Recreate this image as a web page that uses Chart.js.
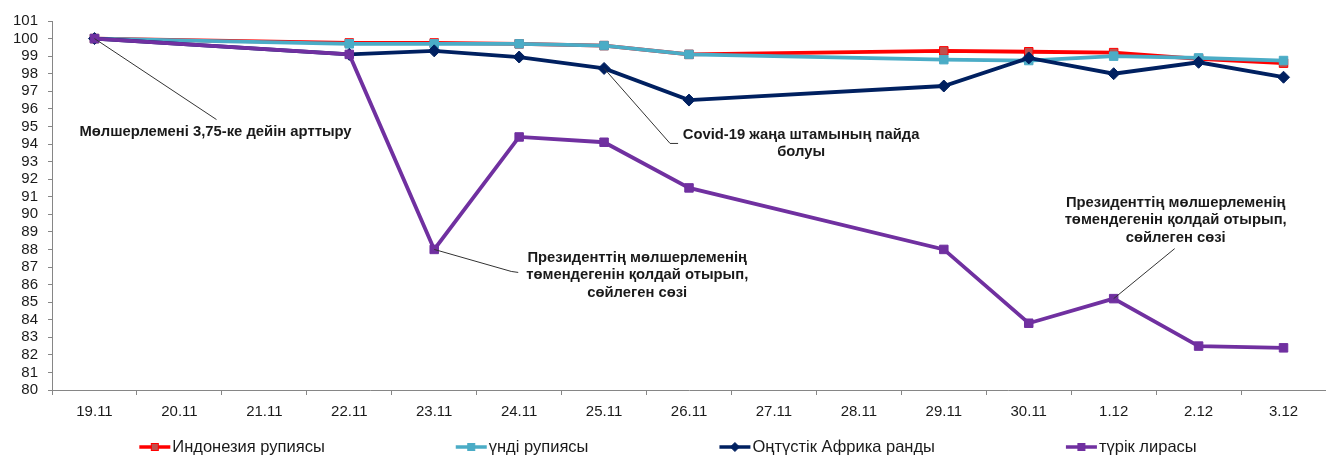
<!DOCTYPE html>
<html>
<head>
<meta charset="utf-8">
<script src="https://cdn.jsdelivr.net/npm/chart.js@4.4.0/dist/chart.umd.min.js"></script>
<style>
  html, body { margin: 0; padding: 0; background: #fff; }
  #wrap { width: 1326px; height: 457px; position: relative; }
</style>
</head>
<body>
<div id="wrap"><canvas id="fx"></canvas></div>
<script>
const labels = ['19.11', '20.11', '21.11', '22.11', '23.11', '24.11', '25.11', '26.11', '27.11', '28.11', '29.11', '30.11', '1.12', '2.12', '3.12'];

// index, 19.11 = 100; no quotes on 20-21.11 and 27-28.11
const idr = [100, null, null, 99.75, 99.75, 99.7, 99.6, 99.1, null, null, 99.3, 99.25, 99.2, 98.85, 98.6];
const inr = [100, null, null, 99.7, 99.7, 99.7, 99.6, 99.1, null, null, 98.8, 98.75, 99.0, 98.9, 98.75];
const zar = [100, null, null, 99.1, 99.3, 98.95, 98.3, 96.5, null, null, 97.3, 98.9, 98.0, 98.65, 97.8];
const tryl = [100, null, null, 99.1, 88.0, 94.4, 94.1, 91.5, null, null, 88.0, 83.8, 85.2, 82.5, 82.4];

const seriesNames = ['Индонезия рупиясы', 'үнді рупиясы', 'Оңтүстік Африка ранды', 'түрік лирасы'];

const yTicks = { min: 80, max: 101, step: 1 };

const speech = ['Президенттің мөлшерлеменің', 'төмендегенін қолдай отырып,', 'сөйлеген сөзі'];
const notes = [
  { ds: 3, at: 0,  text: ['Мөлшерлемені 3,75-ке дейін арттыру'], path: [[122, 81]], tx: 121, ty: 93 },
  { ds: 2, at: 6,  text: ['Covid-19 жаңа штамының пайда', 'болуы'], path: [[66, 75], [74, 75]], tx: 197, ty: 66 },
  { ds: 3, at: 4,  text: speech, path: [[77, 22], [84, 23]], tx: 203, ty: 8 },
  { ds: 3, at: 12, text: speech, path: [[61, -50]], tx: 62, ty: -96 }
];

const FONT = 'Arial, "Liberation Sans", sans-serif';

const notePlugin = {
  id: 'notes',
  afterDatasetsDraw(chart) {
    const { ctx, scales: { x, y } } = chart;
    ctx.save();
    notes.forEach(n => {
      const v = chart.data.datasets[n.ds].data[n.at];
      const px = x.getPixelForValue(n.at);
      const py = y.getPixelForValue(v);
      ctx.strokeStyle = '#333333';
      ctx.lineWidth = 1;
      ctx.beginPath();
      ctx.moveTo(px, py);
      n.path.forEach(p => ctx.lineTo(px + p[0], py + p[1]));
      ctx.stroke();
      ctx.fillStyle = '#1a1a1a';
      ctx.font = 'bold 14.8px ' + FONT;
      ctx.textAlign = 'center';
      ctx.textBaseline = 'middle';
      n.text.forEach((t, i) => ctx.fillText(t, px + n.tx, py + n.ty + i * 17.5));
    });
    ctx.restore();
  }
};

const legendPlugin = {
  id: 'legendRow',
  afterDraw(chart) {
    const { ctx } = chart;
    const sets = chart.data.datasets;
    ctx.save();
    ctx.font = '16.5px ' + FONT;
    const lineW = 31, gapText = 2, gap = 131;
    const widths = sets.map(d => lineW + gapText + ctx.measureText(d.label).width);
    const total = widths.reduce((a, b) => a + b, 0) + gap * (sets.length - 1);
    let xx = (chart.width - total) / 2 + 5;
    const yy = 447;
    sets.forEach((d, i) => {
      ctx.strokeStyle = d.borderColor;
      ctx.lineWidth = 3.5;
      ctx.beginPath();
      ctx.moveTo(xx, yy);
      ctx.lineTo(xx + lineW, yy);
      ctx.stroke();
      const cx = xx + lineW / 2;
      ctx.fillStyle = d.pointBackgroundColor;
      ctx.strokeStyle = d.pointBorderColor;
      ctx.lineWidth = 1;
      if (d.pointStyle === 'rectRot') {
        ctx.beginPath();
        ctx.moveTo(cx, yy - 4.5); ctx.lineTo(cx + 4.5, yy); ctx.lineTo(cx, yy + 4.5); ctx.lineTo(cx - 4.5, yy);
        ctx.closePath(); ctx.fill(); ctx.stroke();
      } else {
        ctx.fillRect(cx - 3.5, yy - 3.5, 7, 7);
        ctx.strokeRect(cx - 3.5, yy - 3.5, 7, 7);
      }
      ctx.fillStyle = '#1a1a1a';
      ctx.textAlign = 'left';
      ctx.textBaseline = 'middle';
      ctx.fillText(d.label, xx + lineW + gapText, yy);
      xx += widths[i] + gap;
    });
    ctx.restore();
  }
};

function line(label, data, color, fill, style, radius, order) {
  return {
    label, data, order,
    borderColor: color,
    backgroundColor: color,
    borderWidth: 3.8,
    pointStyle: style,
    pointRadius: radius,
    pointHoverRadius: radius,
    pointBackgroundColor: fill,
    pointBorderColor: color,
    pointBorderWidth: 1,
    spanGaps: true,
    tension: 0
  };
}

new Chart(document.getElementById('fx'), {
  type: 'line',
  data: {
    labels,
    datasets: [
      line(seriesNames[0], idr, '#FF0000', '#C0504D', 'rect', 6, 4),
      line(seriesNames[1], inr, '#4BACC6', '#4BACC6', 'rect', 6, 3),
      line(seriesNames[2], zar, '#002060', '#002060', 'rectRot', 6, 2),
      line(seriesNames[3], tryl, '#7030A0', '#7030A0', 'rect', 6, 1)
    ]
  },
  options: {
    responsive: true,
    maintainAspectRatio: false,
    animation: false,
    layout: { autoPadding: false, padding: { left: 3, right: 0, top: 21, bottom: 28 } },
    plugins: { legend: { display: false }, tooltip: { enabled: false } },
    scales: {
      x: {
        offset: true,
        grid: { offset: true, drawOnChartArea: false, tickLength: 5, color: '#868686' },
        border: { color: '#868686', width: 1 },
        ticks: { color: '#1a1a1a', font: { family: FONT, size: 15 }, padding: 8, maxRotation: 0, autoSkip: false }
      },
      y: {
        min: yTicks.min,
        max: yTicks.max,
        grid: { drawOnChartArea: false, tickLength: 4, color: '#868686' },
        border: { color: '#868686', width: 1 },
        ticks: { stepSize: yTicks.step, autoSkip: false, color: '#1a1a1a', font: { family: FONT, size: 15 }, padding: 10 }
      }
    }
  },
  plugins: [notePlugin, legendPlugin]
});
</script>
</body>
</html>
